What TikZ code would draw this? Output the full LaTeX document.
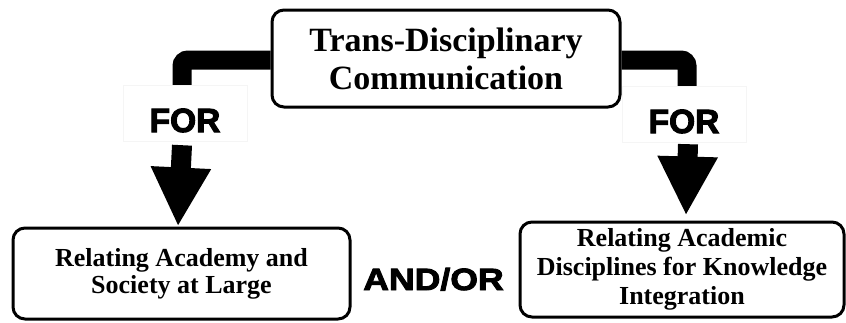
\documentclass[tikz,border=0pt]{standalone}
\usepackage{fontspec}
\setmainfont{Liberation Serif}
\newfontfamily\heavyfont{Liberation Sans Bold}[FakeBold=3]
\newfontfamily\widefont{Liberation Sans Bold}[FakeBold=3,FakeStretch=1.16]
\usetikzlibrary{calc}
\usetikzlibrary{arrows.meta}

\begin{document}
\begin{tikzpicture}[x=1pt, y=-1pt,
  Kasten/.style={draw, line width=3pt, rounded corners=12pt, align=center, inner sep=0pt},
  Klammer/.style={line width=19pt, rounded corners=6pt},
  Pfeil/.style={line width=20pt, arrows = -{Triangle[length=59pt, width=56pt]}},
  Wort/.style={fill=white, draw=black!4, inner sep=0pt, minimum width=124pt, text height=47pt, text depth=9pt, font=\heavyfont\fontsize{33.5}{34}\selectfont}]
\useasboundingbox (0,0) rectangle (846,322);
\node[Kasten, minimum width=348pt, minimum height=97pt, font=\bfseries\fontsize{34}{38}\selectfont] (top) at (446,58.5) {Trans-Disciplinary\\Communication};
\node[Kasten, minimum width=337pt, minimum height=91pt, font=\bfseries\fontsize{26}{27}\selectfont] (bl) at (181.5,273.5) {Relating Academy and\\Society at Large};
\node[Kasten, minimum width=324pt, minimum height=95pt, font=\bfseries\fontsize{26}{29}\selectfont] (br) at (682,269.5) {Relating Academic\\Disciplines for Knowledge\\Integration};
\node[Wort, anchor=base] (fl) at (185,132) {FOR};
\node[Wort, anchor=base] (fr) at (684,133) {FOR};
\node[font=\widefont\fontsize{30.7}{31}\selectfont, anchor=base] (und) at (433.5,290) {AND/OR};
% Klammern oben
\draw[Klammer] ([yshift=-1.5pt]top.west) -| ([xshift=-3pt]fl.north);
\draw[Klammer] ([yshift=-1.5pt]top.east) -| ([xshift=3pt]fr.north);
% Pfeile nach unten
\draw[Pfeil] ([xshift=-3pt,yshift=-4pt]fl.south) -- ([xshift=-3.5pt]bl.north);
\draw[Pfeil] ([xshift=4pt,yshift=-2pt]fr.south) -- ([xshift=4pt,yshift=5pt]br.north);
\end{tikzpicture}
\end{document}
